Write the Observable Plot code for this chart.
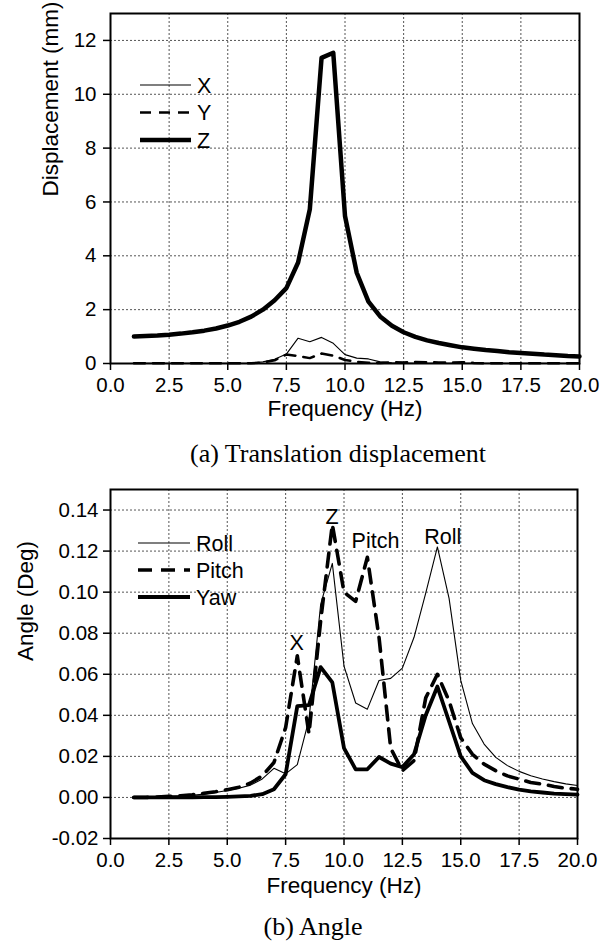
<!DOCTYPE html>
<html><head><meta charset="utf-8">
<script src="https://cdn.jsdelivr.net/npm/d3@7"></script>
<script src="https://cdn.jsdelivr.net/npm/@observablehq/plot@0.6"></script>
<style>
body{margin:0;background:#fff;}
#wrap{position:relative;width:603px;height:941px;overflow:hidden;background:#fff;}
.panel{position:absolute;left:0;}
.cap{position:absolute;font-family:"Liberation Serif","Times New Roman",serif;font-size:26px;line-height:1;color:#000;white-space:nowrap;transform:translateX(-50%);}
</style></head><body><div id="wrap"></div>
<script>
// ---- data ----
const freq = [1,1.5,2,2.5,3,3.5,4,4.5,5,5.5,6,6.5,7,7.5,8,8.5,9,9.5,10,10.5,11,11.5,12,12.5,13,13.5,14,14.5,15,15.5,16,16.5,17,17.5,18,18.5,19,19.5,20];
const dispX = [0.01,0.01,0.01,0.01,0.01,0.01,0.01,0.01,0.01,0.01,0.02,0.06,0.16,0.35,0.94,0.81,0.97,0.75,0.33,0.2,0.17,0.06,0.03,0.02,0.01,0.01,0.01,0.01,0.01,0.01,0.01,0.01,0.01,0.01,0.01,0.01,0.01,0.01,0.01];
const dispY = [0.01,0.01,0.01,0.01,0.01,0.01,0.01,0.01,0.01,0.01,0.01,0.04,0.12,0.33,0.28,0.2,0.37,0.29,0.13,0.06,0.03,0.02,0.05,0.04,0.06,0.05,0.04,0.03,0.05,0.02,0.01,0.01,0.01,0.01,0.01,0.01,0.01,0.01,0.01];
const dispZ = [1.0,1.02,1.04,1.07,1.11,1.16,1.22,1.3,1.41,1.55,1.74,2.0,2.35,2.8,3.75,5.73,11.35,11.54,5.48,3.37,2.3,1.75,1.4,1.16,0.99,0.86,0.76,0.68,0.6,0.55,0.5,0.46,0.42,0.39,0.36,0.33,0.31,0.28,0.26];

const angRoll = [0,0.0001,0.0002,0.0004,0.0007,0.001,0.0016,0.0024,0.0034,0.0045,0.006,0.009,0.0142,0.0115,0.016,0.038,0.094,0.114,0.064,0.046,0.043,0.057,0.058,0.063,0.078,0.0995,0.122,0.097,0.057,0.036,0.026,0.0195,0.0155,0.0127,0.0106,0.009,0.0077,0.0066,0.0058];
const angPitch = [0,0,0.0002,0.0005,0.0008,0.0013,0.002,0.0028,0.0038,0.005,0.007,0.0105,0.017,0.034,0.069,0.031,0.086,0.133,0.1,0.0955,0.117,0.078,0.024,0.013,0.018,0.0485,0.06,0.047,0.029,0.021,0.0162,0.013,0.0105,0.0089,0.0073,0.0065,0.0053,0.0045,0.004];
const angYaw = [0,0,0,0.0002,0.0001,0.0001,0.0002,0.0002,0.0003,0.0005,0.0008,0.0016,0.004,0.0113,0.0445,0.045,0.0635,0.056,0.024,0.0137,0.0137,0.0197,0.0165,0.0148,0.021,0.04,0.054,0.037,0.02,0.012,0.0084,0.0065,0.005,0.0038,0.003,0.0024,0.0019,0.0016,0.0014];

const xTicks = [0,2.5,5,7.5,10,12.5,15,17.5,20];
const dispTicks = [0,2,4,6,8,10,12];
const angTicks = [-0.02,0,0.02,0.04,0.06,0.08,0.10,0.12,0.14];

const dispSeries = ["X","Y","Z"];
const angSeries = ["Roll","Pitch","Yaw"];

const annLabels = ["Z","X","Pitch","Roll"];
const annX = [9.49,7.97,11.35,14.23];
const annY = [0.1366,0.075,0.125,0.127];

const captionA = "(a) Translation displacement";
const captionB = "(b) Angle";

// ---- helpers ----
const rows = (vals) => freq.map((f,i)=>({f, v: vals[i]}));
const FONT = "'Liberation Sans', Arial, sans-serif";
const gridStyle = {stroke:"#555", strokeOpacity:1, strokeWidth:1, strokeDasharray:"2,2"};

function legend(svg, names, styles, y0, step, x1, x2, tx){
  const g = d3.select(svg).append("g").attr("font-family", FONT).attr("font-size", 21.5).attr("text-anchor","start");
  names.forEach((n,i)=>{
    const y = y0 + step*i, s = styles[i];
    g.append("line").attr("x1",x1).attr("x2",x2).attr("y1",y).attr("y2",y)
      .attr("stroke","black").attr("stroke-width",s.w).attr("stroke-dasharray",s.dash||null);
    g.append("text").attr("x",tx).attr("y",y).attr("dy","0.36em").attr("text-anchor","start").text(n);
  });
}

const wrap = document.getElementById("wrap");

// ---- panel (a) ----
const styA = [{w:1.1},{w:2.5,dash:"11,8"},{w:4.5}];
const plotA = Plot.plot({
  width:603, height:430, marginTop:13, marginBottom:67, marginLeft:110, marginRight:24,
  x:{domain:[0,20]}, y:{domain:[0,13]},
  style:{fontFamily:FONT, background:"white", color:"black"},
  marks:[
    Plot.gridX(xTicks.filter(t=>t>0&&t<20), gridStyle),
    Plot.gridY(dispTicks.filter(t=>t>0), gridStyle),
    Plot.lineY(rows(dispX), {x:"f", y:"v", stroke:"black", strokeWidth:styA[0].w}),
    Plot.lineY(rows(dispY), {x:"f", y:"v", stroke:"black", strokeWidth:styA[1].w, strokeDasharray:styA[1].dash}),
    Plot.lineY(rows(dispZ), {x:"f", y:"v", stroke:"black", strokeWidth:styA[2].w}),
    Plot.frame({stroke:"black", strokeWidth:2}),
    Plot.axisX({ticks:xTicks, tickFormat:d=>d.toFixed(1), tickSize:7, tickPadding:7, fontSize:20.5, label:null, strokeWidth:1.5}),
    Plot.axisY({ticks:dispTicks, tickFormat:d=>String(d), tickSize:7, tickPadding:7, fontSize:20.5, label:null, strokeWidth:1.5}),
    Plot.text(["Frequency (Hz)"], {text:d=>d, frameAnchor:"bottom", lineAnchor:"bottom", dy:52, fontSize:22.5}),
    Plot.text(["Displacement (mm)"], {text:d=>d, frameAnchor:"left", rotate:-90, dx:-60, dy:8, fontSize:22.5})
  ]
});
plotA.classList.add("panel"); plotA.style.top = "0px";
legend(plotA, dispSeries, styA, 85, 27.5, 140, 191, 197);
wrap.appendChild(plotA);

// ---- panel (b) ----
const styB = [{w:1.1},{w:3.6,dash:"14,9"},{w:3.8}];
const plotB = Plot.plot({
  width:603, height:430, marginTop:19, marginBottom:62, marginLeft:110, marginRight:26,
  x:{domain:[0,20]}, y:{domain:[-0.02,0.15]},
  style:{fontFamily:FONT, background:"white", color:"black"},
  marks:[
    Plot.gridX(xTicks.filter(t=>t>0&&t<20), gridStyle),
    Plot.gridY(angTicks.filter(t=>t>-0.02), gridStyle),
    Plot.lineY(rows(angRoll), {x:"f", y:"v", stroke:"black", strokeWidth:styB[0].w}),
    Plot.lineY(rows(angPitch), {x:"f", y:"v", stroke:"black", strokeWidth:styB[1].w, strokeDasharray:styB[1].dash}),
    Plot.lineY(rows(angYaw), {x:"f", y:"v", stroke:"black", strokeWidth:styB[2].w}),
    Plot.text(annLabels, {x:(d,i)=>annX[i], y:(d,i)=>annY[i], text:d=>d, fontSize:21.5, fill:"black"}),
    Plot.frame({stroke:"black", strokeWidth:2}),
    Plot.axisX({ticks:xTicks, tickFormat:d=>d.toFixed(1), tickSize:7, tickPadding:7, fontSize:20.5, label:null, strokeWidth:1.5}),
    Plot.axisY({ticks:angTicks, tickFormat:d=>d.toFixed(2), tickSize:7, tickPadding:5, fontSize:20.5, label:null, strokeWidth:1.5}),
    Plot.text(["Frequency (Hz)"], {text:d=>d, frameAnchor:"bottom", lineAnchor:"bottom", dy:54, fontSize:22.5}),
    Plot.text(["Angle (Deg)"], {text:d=>d, frameAnchor:"left", rotate:-90, dx:-85, dy:-3, fontSize:22.5})
  ]
});
plotB.classList.add("panel"); plotB.style.top = "470px";
legend(plotB, angSeries, styB, 543-470, 27, 138, 190, 196);
wrap.appendChild(plotB);

// ---- captions ----
function caption(t, cx, top){
  const d = document.createElement("div");
  d.className = "cap"; d.textContent = t;
  d.style.left = cx + "px"; d.style.top = top + "px";
  wrap.appendChild(d);
}
caption(captionA, 338, 441);
caption(captionB, 313, 914);
</script></body></html>
